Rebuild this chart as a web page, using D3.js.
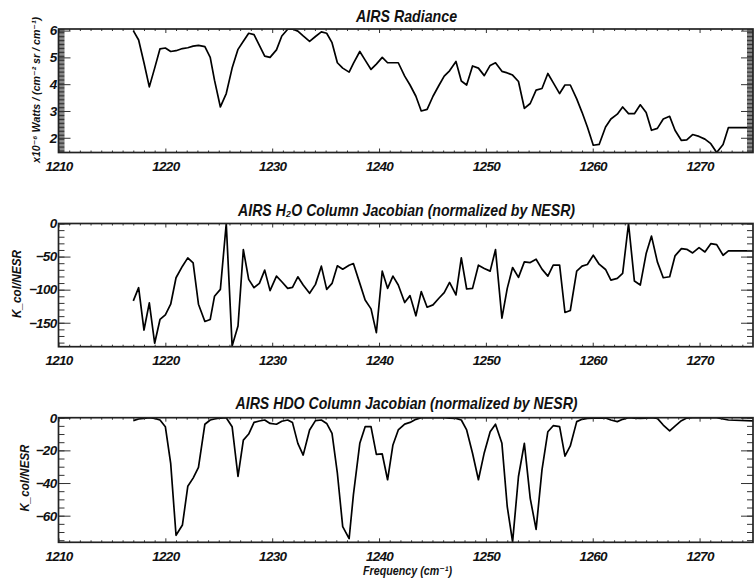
<!DOCTYPE html>
<html><head><meta charset="utf-8">
<script src="https://cdn.jsdelivr.net/npm/d3@7"></script>
<style>
body{margin:0;background:#fff;}
svg text{font-family:"Liberation Sans",Arial,Helvetica,"DejaVu Sans",sans-serif;font-weight:bold;font-style:italic;fill:#111;}
</style></head><body>
<svg id="c" width="754" height="582"></svg>
<script>
// Frequency grid (cm^-1)
const freq=[
1217.0,1217.5,1218.0,1218.5,1219.0,1219.5,1220.0,1220.5,1221.0,1221.6,
1222.1,1222.6,1223.1,1223.7,1224.2,1224.6,1225.15,1225.7,1226.25,1226.8,
1227.3,1227.8,1228.3,1228.8,1229.3,1229.8,1230.4,1230.9,1231.45,1231.9,
1232.4,1232.9,1233.5,1234.05,1234.6,1235.1,1235.6,1236.1,1236.6,1237.2,
1237.6,1238.2,1238.7,1239.25,1239.75,1240.3,1240.8,1241.3,1241.8,1242.4,
1242.9,1243.45,1243.95,1244.5,1245.05,1245.6,1246.1,1246.6,1247.2,1247.7,
1248.2,1248.75,1249.3,1249.85,1250.4,1250.9,1251.5,1252.0,1252.5,1253.05,
1253.6,1254.15,1254.7,1255.25,1255.8,1256.3,1256.9,1257.4,1257.9,1258.5,
1259.0,1259.5,1260.05,1260.6,1261.2,1261.7,1262.3,1262.8,1263.35,1263.9,
1264.45,1265.0,1265.5,1266.05,1266.6,1267.2,1267.7,1268.3,1268.8,1269.35,
1269.95,1270.5,1271.05,1271.6,1272.2,1272.7,1275.0];

// AIRS radiance (x10^-6 W/(cm^2 sr cm^-1))
const radiance=[
6.0,5.65,4.8,3.9,4.6,5.32,5.35,5.22,5.25,5.33,
5.36,5.42,5.45,5.4,5.0,4.15,3.15,3.65,4.6,5.3,
5.6,5.9,5.85,5.45,5.05,5.0,5.28,5.8,6.05,6.06,
5.98,5.8,5.6,5.78,5.95,5.9,5.55,4.8,4.6,4.45,
4.78,5.22,4.9,4.55,4.75,5.0,4.8,4.8,4.8,4.3,
3.97,3.55,3.0,3.06,3.55,3.95,4.3,4.5,4.85,4.12,
3.97,4.68,4.6,4.32,4.7,4.8,4.48,4.42,4.34,4.1,
3.1,3.28,3.78,3.84,4.4,4.06,3.65,3.97,3.97,3.45,
2.95,2.4,1.72,1.75,2.4,2.7,2.88,3.15,2.9,2.9,
3.23,2.94,2.28,2.35,2.7,2.8,2.28,1.9,1.92,2.12,
2.05,1.95,1.78,1.45,1.75,2.38,2.38];

// H2O column Jacobian (normalized by NESR)
const h2oJac=[
-117,-97,-161,-120,-181,-145,-138,-122,-82,-64.5,
-52,-59.5,-122,-148,-145,-110,-99.5,0,-185,-155,
-39.5,-84.5,-97,-90.5,-70.5,-101.5,-79.5,-88,-98,-96.5,
-80.5,-93,-105.5,-92,-64.5,-99.5,-90.5,-64,-69,-63,
-60.5,-90.5,-115.5,-129,-165,-72,-98,-79.5,-93,-119.5,
-109,-139.5,-103,-126.5,-123,-113,-104.5,-89,-108,-52,
-99,-98,-63,-68,-72,-39.5,-143,-98,-66.5,-81.5,
-58,-59,-54,-69,-79.5,-63,-63,-134.5,-131.5,-72,
-64.5,-62,-48,-61.5,-69.5,-85.5,-83,-75.5,0,-87,
-93,-45.5,-19,-58,-82,-80.5,-49,-38,-39,-44.5,
-36.5,-43,-30.5,-32,-48,-41.5,-41.5];

// HDO column Jacobian (normalized by NESR)
const hdoJac=[
-1.8,-0.8,-0.4,0,-0.4,-1.4,-5.5,-28,-72,-65.7,
-42,-37,-30.4,-4,-1.4,-0.8,-0.2,0,-5.5,-36,
-13.7,-10,-2.9,-2,-1.4,-3.5,-4,-2.2,-1.4,-3,
-15.7,-22.9,-7.5,-1.8,-1.4,-3.5,-9.6,-34,-66.7,-74,
-47.3,-15.7,-5.5,-5.5,-22.5,-22.2,-38,-16.7,-7.5,-3.9,
-2.9,-1,0,0,0,0,0,-0.2,-0.4,-1.4,
-7.5,-21.8,-38,-21.4,-8.6,-4,-15.7,-54.5,-76,-36,
-15.7,-49.4,-68.4,-32,-8.6,-4.9,-5.5,-23.5,-17.3,-2.4,
-1,-0.4,-0.2,-0.2,-0.2,-1.4,-2.4,-1,0,-0.2,
-0.4,-0.2,0,-0.4,-4.5,-8,-5.1,-1.8,-0.2,0,
0,0,0,0,-0.8,-1.4,-2];

const xTicks=[1210,1220,1230,1240,1250,1260,1270];
const radTicks=[2,3,4,5,6];
const h2oTicks=[0,-50,-100,-150];
const hdoTicks=[0,-20,-40,-60];

const svg=d3.select("#c");
const X0=58.5, X1=753;
const x=d3.scaleLinear().domain([1210,1275]).range([X0,X1]);
const xMinor=d3.range(1211,1275,1).filter(v=>v%10!==0);

const panels=[
 {id:"p1",values:radiance,domain:[1.45,6.06],top:29,bottom:152.5,ticks:radTicks,
  minor:d3.range(1.5,6.06,0.05).map(v=>+v.toFixed(2)),
  title:"AIRS Radiance",titleY:22,titleLen:101,
  ylab:"x10\u207B\u2076 Watts / (cm\u207B\u00B2 sr / cm\u207B\u00B9)",
  ylabX:40,ylabY:90,ylabLen:146,ylabSize:11.5},
 {id:"p2",values:h2oJac,domain:[-186.2,0],top:223.5,bottom:346.7,ticks:h2oTicks,
  minor:d3.range(-180,0.1,10),
  title:"AIRS H\u2082O Column Jacobian (normalized by NESR)",titleY:216,titleLen:337,
  ylab:"K_col/NESR",ylabX:20.5,ylabY:284,ylabLen:68,ylabSize:13},
 {id:"p3",values:hdoJac,domain:[-76.3,0],top:417.7,bottom:542.3,ticks:hdoTicks,
  minor:d3.range(-75,0.1,5),
  title:"AIRS HDO Column Jacobian (normalized by NESR)",titleY:409,titleLen:342,
  ylab:"K_col/NESR",ylabX:29,ylabY:478,ylabLen:67,ylabSize:13}
];

function styleAxis(g){
  g.select(".domain").remove();
  g.selectAll(".tick line").attr("stroke","#333").attr("stroke-width",1);
  g.selectAll("text").attr("font-size",13.5).attr("letter-spacing","-0.7px")
    .attr("font-family",null).attr("fill","#111");
  g.attr("font-family",null).attr("font-size",null);
}

panels.forEach(p=>{
  const y=d3.scaleLinear().domain(p.domain).range([p.bottom,p.top]);
  const g=svg.append("g");
  g.append("clipPath").attr("id","clip-"+p.id).append("rect")
    .attr("x",X0).attr("y",p.top).attr("width",X1-X0).attr("height",p.bottom-p.top);

  // data line
  const line=d3.line().x((d,i)=>x(freq[i])).y(d=>y(d));
  g.append("path").datum(p.values).attr("d",line).attr("fill","none")
    .attr("stroke","#000").attr("stroke-width",1.7).attr("stroke-linejoin","round")
    .attr("clip-path","url(#clip-"+p.id+")");

  // bottom axis
  g.append("g").attr("transform",`translate(0,${p.bottom})`)
    .call(d3.axisBottom(x).tickValues(xTicks).tickSize(-4).tickSizeOuter(0).tickPadding(9).tickFormat(d3.format("d")))
    .call(styleAxis);
  g.append("g").attr("transform",`translate(0,${p.bottom})`)
    .call(d3.axisBottom(x).tickValues(xMinor).tickSize(-2).tickSizeOuter(0).tickFormat(""))
    .call(styleAxis);
  // top axis
  g.append("g").attr("transform",`translate(0,${p.top})`)
    .call(d3.axisTop(x).tickValues(xTicks).tickSize(-4).tickSizeOuter(0).tickFormat(""))
    .call(styleAxis);
  g.append("g").attr("transform",`translate(0,${p.top})`)
    .call(d3.axisTop(x).tickValues(xMinor).tickSize(-2).tickSizeOuter(0).tickFormat(""))
    .call(styleAxis);
  // left axis
  g.append("g").attr("transform",`translate(${X0},0)`)
    .call(d3.axisLeft(y).tickValues(p.ticks).tickSize(-12).tickSizeOuter(0).tickPadding(2).tickFormat(d3.format("d")))
    .call(styleAxis);
  g.append("g").attr("transform",`translate(${X0},0)`)
    .call(d3.axisLeft(y).tickValues(p.minor).tickSize(-6).tickSizeOuter(0).tickFormat(""))
    .call(styleAxis);
  // right axis
  g.append("g").attr("transform",`translate(${X1},0)`)
    .call(d3.axisRight(y).tickValues(p.ticks).tickSize(-12).tickSizeOuter(0).tickFormat(""))
    .call(styleAxis);
  g.append("g").attr("transform",`translate(${X1},0)`)
    .call(d3.axisRight(y).tickValues(p.minor).tickSize(-6).tickSizeOuter(0).tickFormat(""))
    .call(styleAxis);

  // frame
  g.append("rect").attr("x",X0).attr("y",p.top).attr("width",X1-X0).attr("height",p.bottom-p.top)
    .attr("fill","none").attr("stroke","#222").attr("stroke-width",1.7);

  // title
  g.append("text").attr("x",(X0+X1)/2+0.8).attr("y",p.titleY).attr("text-anchor","middle")
    .attr("font-size",16.5).attr("textLength",p.titleLen).attr("lengthAdjust","spacingAndGlyphs")
    .text(p.title);

  // y label
  g.append("text").attr("transform",`translate(${p.ylabX},${p.ylabY}) rotate(-90)`)
    .attr("text-anchor","middle").attr("font-size",p.ylabSize)
    .attr("textLength",p.ylabLen).attr("lengthAdjust","spacingAndGlyphs")
    .text(p.ylab);
});

// x axis title
svg.append("text").attr("x",407.5).attr("y",574.5).attr("text-anchor","middle")
  .attr("font-size",13).attr("textLength",89).attr("lengthAdjust","spacingAndGlyphs")
  .text("Frequency (cm\u207B\u00B9)");
</script>
</body></html>
